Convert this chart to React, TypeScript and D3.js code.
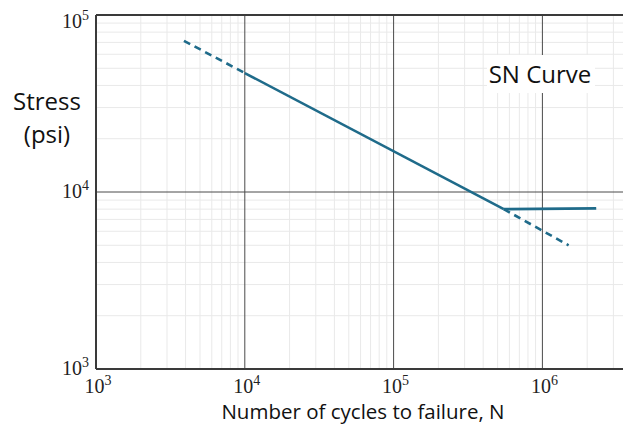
import React, { useEffect, useRef } from 'react'
import * as d3 from 'd3'

// x decades drawn (chart runs past the right edge of the picture)
const xExps = [3, 4, 5, 6, 7]
const yExps = [3, 4, 5]
const xTickExps = [3, 4, 5, 6]
const yTickExps = [3, 4, 5]

// S-N curve pieces (N cycles, S psi)
const extensionLeft = [{ n: 3900, s: 71500 }, { n: 1e4, s: 47000 }]
const slopeSegment = [{ n: 1e4, s: 47000 }, { n: 5.5e5, s: 8000 }]
const enduranceSegment = [{ n: 5.5e5, s: 8000 }, { n: 2.3e6, s: 8080 }]
const extensionRight = [{ n: 5.5e5, s: 8000 }, { n: 1.5e6, s: 5000 }]

const W = 623
const H = 427
const LINE = '#1f6b8a'

export default function App() {
    const ref = useRef<SVGSVGElement>(null)

    useEffect(() => {
        const svg = d3.select(ref.current)
        svg.selectAll('*').remove()

        const left = 96, top = 15, bottom = 369
        const decadeW = 148.8
        const x = d3.scaleLog().domain([1e3, 1e7]).range([left, left + decadeW * 4])
        const y = d3.scaleLog().domain([1e3, 1e5]).range([bottom, top])
        const x0 = x(1e3), x1 = x(1e7)

        const g = svg.append('g')

        // minor grid
        const minorX: number[] = []
        xExps.slice(0, -1).forEach(e => { for (let k = 2; k < 10; k++) minorX.push(k * 10 ** e) })
        const minorY: number[] = []
        yExps.slice(0, -1).forEach(e => { for (let k = 2; k < 10; k++) minorY.push(k * 10 ** e) })

        g.selectAll('.mx').data(minorX).enter().append('line')
            .attr('x1', d => x(d)).attr('x2', d => x(d))
            .attr('y1', top).attr('y2', bottom)
            .attr('stroke', '#e9e9e9').attr('stroke-width', 1)
        g.selectAll('.my').data(minorY).enter().append('line')
            .attr('x1', x0).attr('x2', x1)
            .attr('y1', d => y(d)).attr('y2', d => y(d))
            .attr('stroke', '#e9e9e9').attr('stroke-width', 1)

        // major grid
        g.selectAll('.Mx').data(xExps.slice(1).map(e => 10 ** e)).enter().append('line')
            .attr('x1', d => x(d)).attr('x2', d => x(d))
            .attr('y1', top).attr('y2', bottom)
            .attr('stroke', '#4a4a4a').attr('stroke-width', 1)
        g.selectAll('.My').data([1e4]).enter().append('line')
            .attr('x1', x0).attr('x2', x1)
            .attr('y1', d => y(d)).attr('y2', d => y(d))
            .attr('stroke', '#4a4a4a').attr('stroke-width', 1)

        // frame
        g.append('line').attr('x1', x0).attr('x2', x1).attr('y1', top).attr('y2', top)
            .attr('stroke', '#3a3a3a').attr('stroke-width', 2)
        g.append('line').attr('x1', x0).attr('x2', x1).attr('y1', bottom).attr('y2', bottom)
            .attr('stroke', '#3a3a3a').attr('stroke-width', 2)
        g.append('line').attr('x1', x0).attr('x2', x0).attr('y1', top).attr('y2', bottom)
            .attr('stroke', '#3a3a3a').attr('stroke-width', 2)

        // curve
        const line = d3.line<{ n: number, s: number }>().x(d => x(d.n)).y(d => y(d.s))
        ;[extensionLeft, extensionRight].forEach(seg => {
            g.append('path').attr('d', line(seg)).attr('fill', 'none')
                .attr('stroke', LINE).attr('stroke-width', 2.6)
                .attr('stroke-dasharray', '7,5')
        })
        ;[slopeSegment, enduranceSegment].forEach(seg => {
            g.append('path').attr('d', line(seg)).attr('fill', 'none')
                .attr('stroke', LINE).attr('stroke-width', 2.6)
        })

        // tick labels
        const tickFont = '"Liberation Serif", "DejaVu Serif", serif'
        const yt = g.selectAll('.yt').data(yTickExps).enter().append('text')
            .attr('x', 89).attr('y', e => Math.max(y(10 ** e), 22) + 6)
            .attr('text-anchor', 'end')
            .attr('font-family', tickFont).attr('font-size', 20).attr('fill', '#222')
        yt.append('tspan').text('10')
        yt.append('tspan').attr('dy', -8).attr('font-size', 14).text(e => String(e))

        const xt = g.selectAll('.xt').data(xTickExps).enter().append('text')
            .attr('x', e => x(10 ** e) + 2).attr('y', 393)
            .attr('text-anchor', 'middle')
            .attr('font-family', tickFont).attr('font-size', 20).attr('fill', '#222')
        xt.append('tspan').text('10')
        xt.append('tspan').attr('dy', -8).attr('font-size', 14).text(e => String(e))

        // axis titles
        const sans = '"Open Sans", "Noto Sans", sans-serif'
        g.append('text').attr('x', 47).attr('y', 110).attr('text-anchor', 'middle')
            .attr('font-family', sans).attr('font-size', 24).attr('fill', '#111').text('Stress')
        g.append('text').attr('x', 47).attr('y', 143).attr('text-anchor', 'middle')
            .attr('font-family', sans).attr('font-size', 24).attr('fill', '#111').text('(psi)')
        g.append('text').attr('x', 363).attr('y', 419).attr('text-anchor', 'middle')
            .attr('font-family', sans).attr('font-size', 20.5).attr('fill', '#111')
            .text('Number of cycles to failure, N')

        // curve label
        g.append('rect').attr('x', 487).attr('y', 55).attr('width', 108).attr('height', 38)
            .attr('fill', '#fff')
        g.append('text').attr('x', 540).attr('y', 83).attr('text-anchor', 'middle')
            .attr('font-family', sans).attr('font-size', 24).attr('fill', '#111').text('SN Curve')
    }, [])

    return (
        <svg ref={ref} width={W} height={H}
            style={{ position: 'absolute', left: 0, top: 0, background: '#fff', overflow: 'hidden' }} />
    )
}
